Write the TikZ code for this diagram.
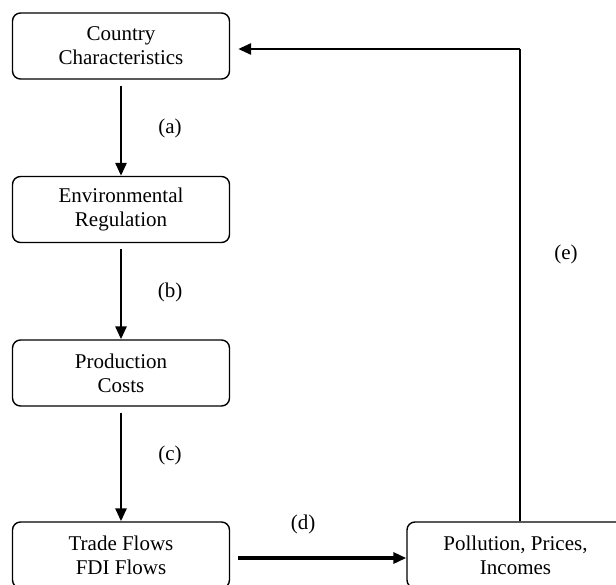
\documentclass[tikz,border=0pt]{standalone}
\usepackage{fontspec}
\setmainfont{Liberation Serif}
\usepackage{tikz}
\usetikzlibrary{arrows.meta}

\begin{document}
\begin{tikzpicture}[x=0.5pt,y=-0.5pt,
    box/.style={draw,line width=0.7pt,rounded corners=4pt,align=center,
      minimum width=108.5pt,minimum height=33pt,inner sep=0pt,
      font=\fontsize{10.5pt}{12pt}\selectfont},
    lbl/.style={font=\fontsize{10.5pt}{12pt}\selectfont},
    flow/.style={line width=1.4pt,-{Triangle[length=6.5pt,width=5.5pt]}}]
  \useasboundingbox (0,0) rectangle (616,584);
  \node[box] (cty) at (121,46)  {Country\\Characteristics};
  \node[box] (env) at (121,209.5) {Environmental\\Regulation};
  \node[box] (cost) at (121,373) {Production\\Costs};
  \node[box] (trade) at (121,555) {Trade Flows\\FDI Flows};
  \node[box] (pol) at (515.5,555) {Pollution, Prices,\\Incomes};
  \draw[flow,shorten <=3pt] (cty) -- (env);
  \draw[flow,shorten <=3pt] (env) -- (cost);
  \draw[flow,shorten <=3pt] (cost) -- (trade);
  \draw[flow,line width=1.8pt,shorten <=4pt] (trade.east |- 0,558) -- (pol.west |- 0,558);
  \coordinate (turn) at (520,49);
  \draw[line width=0.7pt] (turn |- pol.north) -- (turn);
  \draw[flow,shorten >=4pt] (turn) -- (cty.east |- turn);
  \node[lbl] (la) at (170,128) {(a)};
  \node[lbl] (lb) at (170,292) {(b)};
  \node[lbl] (lc) at (170,455) {(c)};
  \node[lbl] (ld) at (303,524) {(d)};
  \node[lbl] (le) at (566,254) {(e)};
\end{tikzpicture}
\end{document}
